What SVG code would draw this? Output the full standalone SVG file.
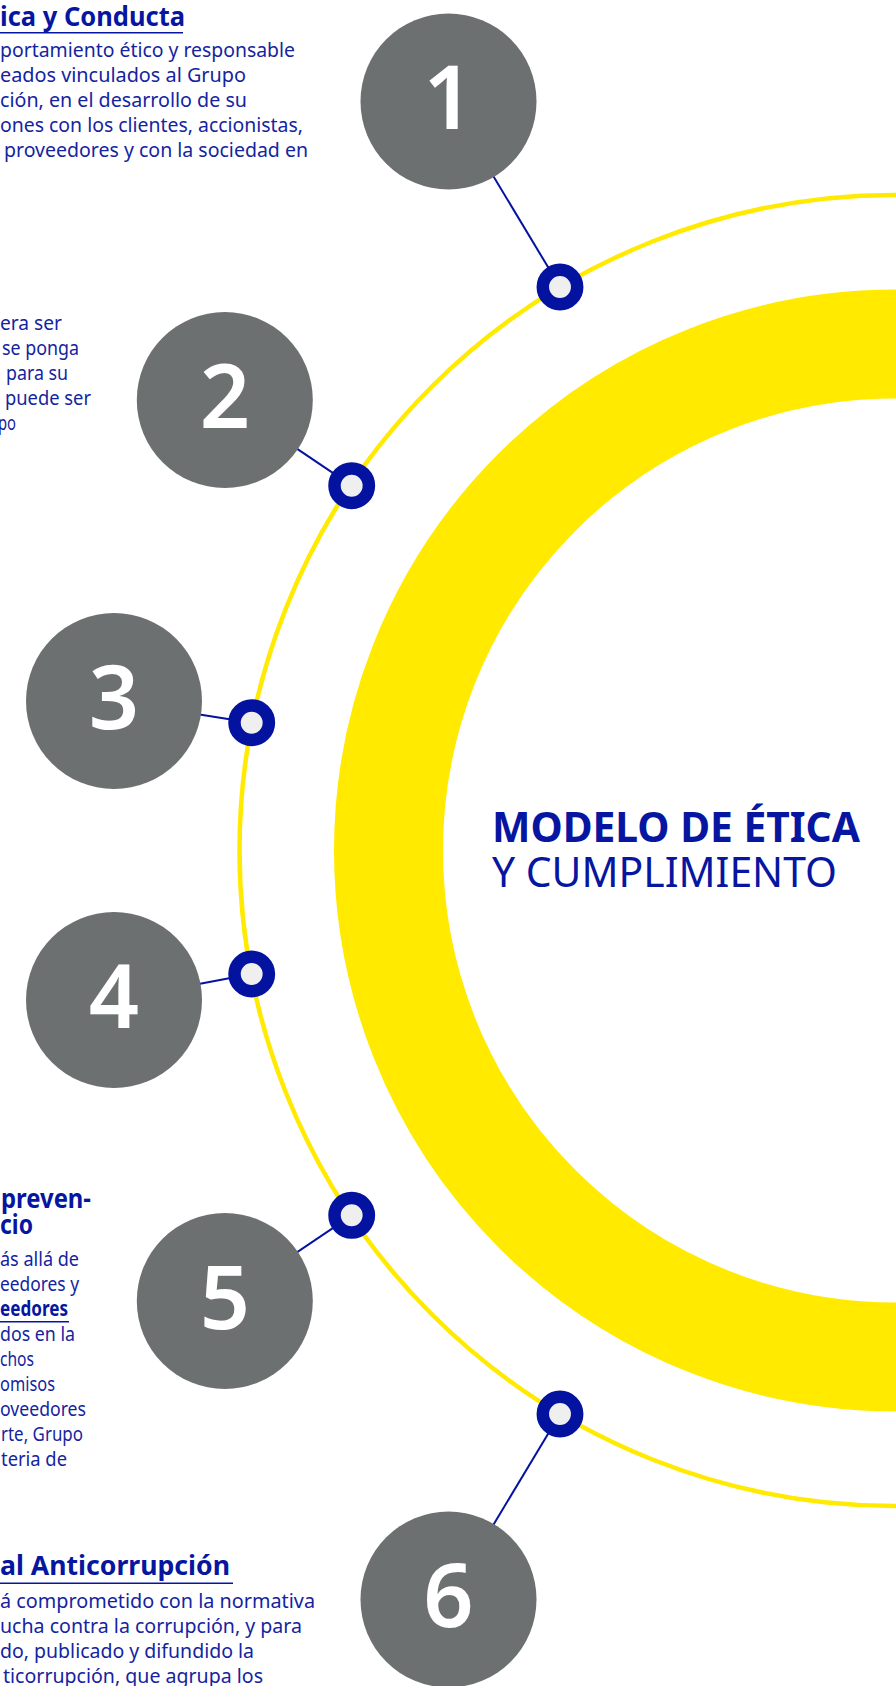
<svg xmlns="http://www.w3.org/2000/svg" width="896" height="1686" viewBox="0 0 896 1686">
<defs>
<style>
.body{font-family:"Noto Sans","Open Sans",sans-serif;font-size:20.5px;fill:#1424a0;}
.head{font-family:"Noto Sans","Open Sans",sans-serif;font-size:26px;font-weight:bold;fill:#0616a0;}
.bodyb{font-family:"Noto Sans","Open Sans",sans-serif;font-size:20.5px;font-weight:bold;fill:#0616a0;}
.ul{stroke:#0616a0;stroke-width:1.6;}
.big{fill:#6d7070;}
.num{font-family:"Noto Sans","Open Sans",sans-serif;font-size:88px;font-weight:600;fill:#ffffff;text-anchor:middle;}
.dot{fill:#efefef;stroke:#0412a0;stroke-width:12.5;}
.conn{stroke:#0412a0;stroke-width:2;fill:none;}
</style>
</defs>
<rect width="896" height="1686" fill="#ffffff"/>
<g id="rings">
<circle cx="895" cy="850.5" r="655.5" fill="none" stroke="#ffea00" stroke-width="4.5"/>
<circle cx="895" cy="850.5" r="506.5" fill="none" stroke="#ffea00" stroke-width="109"/>
</g>
<g id="title">
<text x="492" y="841.7" textLength="368" lengthAdjust="spacingAndGlyphs" style="font-family:'Noto Sans','Open Sans',sans-serif;font-size:42px;font-weight:bold;fill:#0616a0;">MODELO DE ÉTICA</text>
<text x="492" y="887" textLength="345" lengthAdjust="spacingAndGlyphs" style="font-family:'Noto Sans','Open Sans',sans-serif;font-size:41px;fill:#0616a0;">Y CUMPLIMIENTO</text>
</g>
<g id="connectors">
<line class="conn" x1="448.5" y1="101.5" x2="560" y2="287"/>
<line class="conn" x1="224.8" y1="400" x2="351.7" y2="485.7"/>
<line class="conn" x1="114" y1="701" x2="251.7" y2="722.7"/>
<line class="conn" x1="114" y1="1000" x2="251.7" y2="974"/>
<line class="conn" x1="224.8" y1="1301" x2="351.7" y2="1215.3"/>
<line class="conn" x1="448.5" y1="1599.5" x2="560" y2="1414"/>
</g>
<g id="node1">
<circle class="big" cx="448.5" cy="101.5" r="88"/>
<text class="num" x="448.5" y="129">1</text>
<circle class="dot" cx="560" cy="287" r="17.2"/>
</g>
<g id="node2">
<circle class="big" cx="224.8" cy="400" r="88"/>
<text class="num" x="224.8" y="427.5">2</text>
<circle class="dot" cx="351.7" cy="485.7" r="17.2"/>
</g>
<g id="node3">
<circle class="big" cx="114" cy="701" r="88"/>
<text class="num" x="114" y="728.5">3</text>
<circle class="dot" cx="251.7" cy="722.7" r="17.2"/>
</g>
<g id="node4">
<circle class="big" cx="114" cy="1000" r="88"/>
<text class="num" x="114" y="1027.5">4</text>
<circle class="dot" cx="251.7" cy="974" r="17.2"/>
</g>
<g id="node5">
<circle class="big" cx="224.8" cy="1301" r="88"/>
<text class="num" x="224.8" y="1328.5">5</text>
<circle class="dot" cx="351.7" cy="1215.3" r="17.2"/>
</g>
<g id="node6">
<circle class="big" cx="448.5" cy="1599.5" r="88"/>
<text class="num" x="448.5" y="1627">6</text>
<circle class="dot" cx="560" cy="1414" r="17.2"/>
</g>
<g id="text1">
<text class="head" x="0" y="25.5" textLength="185" lengthAdjust="spacingAndGlyphs">ica y Conducta</text>
<line class="ul" x1="0" y1="32.7" x2="183" y2="32.7"/>
<text class="body" x="0" y="57" textLength="295" lengthAdjust="spacingAndGlyphs">portamiento ético y responsable</text>
<text class="body" x="0" y="82" textLength="246" lengthAdjust="spacingAndGlyphs">eados vinculados al Grupo</text>
<text class="body" x="0" y="107" textLength="247" lengthAdjust="spacingAndGlyphs">ción, en el desarrollo de su</text>
<text class="body" x="0" y="132" textLength="303" lengthAdjust="spacingAndGlyphs">ones con los clientes, accionistas,</text>
<text class="body" x="4" y="157" textLength="304" lengthAdjust="spacingAndGlyphs">proveedores y con la sociedad en</text>
</g>
<g id="text2">
<text class="body" x="0" y="329.5" textLength="62" lengthAdjust="spacingAndGlyphs">era ser</text>
<text class="body" x="2" y="354.5" textLength="77" lengthAdjust="spacingAndGlyphs">se ponga</text>
<text class="body" x="6" y="379.5" textLength="62" lengthAdjust="spacingAndGlyphs">para su</text>
<text class="body" x="5" y="404.5" textLength="86" lengthAdjust="spacingAndGlyphs">puede ser</text>
<text class="body" x="-2" y="429.5" textLength="18" lengthAdjust="spacingAndGlyphs">po</text>
</g>
<g id="text5">
<text class="head" x="1" y="1208.3" textLength="90" lengthAdjust="spacingAndGlyphs">preven-</text>
<text class="head" x="0" y="1233.5" textLength="33" lengthAdjust="spacingAndGlyphs">cio</text>
<text class="body" x="0" y="1266" textLength="79" lengthAdjust="spacingAndGlyphs">ás allá de</text>
<text class="body" x="0" y="1291" textLength="79" lengthAdjust="spacingAndGlyphs">eedores y</text>
<text class="bodyb" x="0" y="1316" textLength="68" lengthAdjust="spacingAndGlyphs">eedores</text>
<line class="ul" x1="0" y1="1321.7" x2="69" y2="1321.7"/>
<text class="body" x="0" y="1341" textLength="75" lengthAdjust="spacingAndGlyphs">dos en la</text>
<text class="body" x="0" y="1366" textLength="34" lengthAdjust="spacingAndGlyphs">chos</text>
<text class="body" x="0" y="1391" textLength="55" lengthAdjust="spacingAndGlyphs">omisos</text>
<text class="body" x="0" y="1416" textLength="86" lengthAdjust="spacingAndGlyphs">oveedores</text>
<text class="body" x="1" y="1441" textLength="82" lengthAdjust="spacingAndGlyphs">rte, Grupo</text>
<text class="body" x="1" y="1466" textLength="66" lengthAdjust="spacingAndGlyphs">teria de</text>
</g>
<g id="text6">
<text class="head" x="0" y="1575" textLength="230" lengthAdjust="spacingAndGlyphs">al Anticorrupción</text>
<line class="ul" x1="0" y1="1583.3" x2="233" y2="1583.3"/>
<text class="body" x="0" y="1608.3" textLength="315" lengthAdjust="spacingAndGlyphs">á comprometido con la normativa</text>
<text class="body" x="0" y="1633" textLength="302" lengthAdjust="spacingAndGlyphs">ucha contra la corrupción, y para</text>
<text class="body" x="0" y="1658" textLength="254" lengthAdjust="spacingAndGlyphs">do, publicado y difundido la</text>
<text class="body" x="3" y="1683" textLength="260" lengthAdjust="spacingAndGlyphs">ticorrupción, que agrupa los</text>
</g>
</svg>
